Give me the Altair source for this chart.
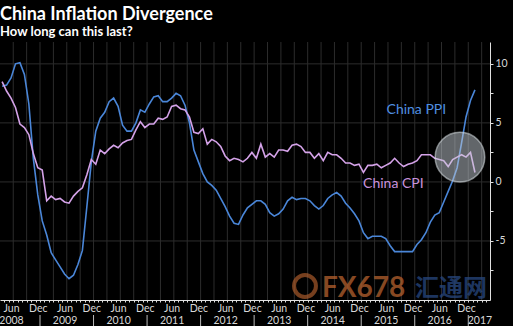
import altair as alt
import pandas as pd

# Monthly YoY % from Apr 2008 to Feb 2017
start_year, start_month = 2008, 4
cpi = [8.5, 7.7, 7.1, 6.3, 4.9, 4.6, 4.0, 2.4, 1.2,
       1.0, -1.6, -1.2, -1.5, -1.4, -1.7, -1.8, -1.2, -0.8, -0.5, 0.6, 1.9,
       1.5, 2.7, 2.4, 2.8, 3.1, 2.9, 3.3, 3.5, 3.6, 4.4, 5.1, 4.6,
       4.9, 4.9, 5.4, 5.3, 5.5, 6.4, 6.5, 6.2, 6.1, 5.5, 4.2, 4.1,
       4.5, 3.2, 3.6, 3.4, 3.0, 2.2, 1.8, 2.0, 1.9, 1.7, 2.0, 2.5,
       2.0, 3.2, 2.1, 2.4, 2.1, 2.7, 2.7, 2.6, 3.1, 3.2, 3.0, 2.5,
       2.5, 2.0, 2.4, 1.8, 2.5, 2.3, 2.3, 2.0, 1.6, 1.6, 1.4, 1.5,
       0.8, 1.4, 1.4, 1.5, 1.2, 1.4, 1.6, 2.0, 1.6, 1.3, 1.5, 1.6,
       1.8, 2.3, 2.3, 2.3, 2.0, 1.9, 1.8, 1.3, 1.9, 2.1, 2.3, 2.1,
       2.5, 0.8]
ppi = [8.1, 8.2, 8.8, 10.0, 10.1, 9.1, 6.6, 2.0, -1.1,
       -3.3, -4.5, -6.0, -6.6, -7.2, -7.8, -8.2, -7.9, -7.0, -5.8, -2.1, 1.7,
       4.3, 5.4, 5.9, 6.8, 7.1, 6.4, 4.8, 4.3, 4.3, 5.0, 6.1, 5.9,
       6.6, 7.2, 7.3, 6.8, 6.8, 7.1, 7.5, 7.3, 6.5, 5.0, 2.7, 1.7,
       0.7, 0.0, -0.3, -0.7, -1.4, -2.1, -2.9, -3.5, -3.6, -2.8, -2.2, -1.9,
       -1.6, -1.6, -1.9, -2.6, -2.9, -2.7, -2.3, -1.6, -1.3, -1.5, -1.4, -1.4,
       -1.6, -2.0, -2.3, -2.0, -1.4, -1.1, -0.9, -1.2, -1.8, -2.2, -2.7, -3.3,
       -4.3, -4.8, -4.6, -4.6, -4.6, -4.8, -5.4, -5.9, -5.9, -5.9, -5.9, -5.9,
       -5.3, -4.9, -4.3, -3.4, -2.8, -2.6, -1.7, -0.8, 0.1, 1.2, 3.3, 5.5,
       6.9, 7.8]

series_names = ["China PPI", "China CPI"]
series_colors = ["#4a86d8", "#d4a2e8"]
label_colors = ["#4f8fe0", "#c992dc"]
label_t = [2016.03, 2015.60]
label_v = [6.1, -0.2]

highlight_t = [2016.845]
highlight_v = [2.1]

y_grid = [-5, 0, 5, 10]
y_ticks = [-7.5, -5, -2.5, 0, 2.5, 5, 7.5, 10]
label_years = list(range(2008, 2017))
x_domain = [2008.2525, 2017.406]
y_domain = [-10.0, 11.85]

W, H = 490, 258


def month_mid(i):
    m = start_month - 1 + i
    return start_year + (m // 12) + ((m % 12) + 0.5) / 12


rows = []
for name, vals in zip(series_names, [ppi, cpi]):
    for i, v in enumerate(vals):
        rows.append({"t": month_mid(i), "v": v, "series": name})
df = pd.DataFrame(rows)

month_starts = [y + m / 12 for y in range(2008, 2018) for m in range(12)]
month_starts = [t for t in month_starts if x_domain[0] < t < x_domain[1]]
quarters = [t for t in month_starts if round((t % 1) * 12) % 3 == 0]
label_pos = [y + 5.5 / 12 for y in label_years] + [y + 11.5 / 12 for y in label_years] + [2017 + 2.5 / 12]
axis_values = sorted(month_starts + label_pos)
year_starts = [t for t in month_starts if abs(t - round(t)) < 1e-6]

FONT = "Lato, sans-serif"

x_scale = alt.Scale(domain=x_domain, nice=False, zero=False)
y_scale = alt.Scale(domain=y_domain, nice=False, zero=False)

label_expr = (
    "abs(datum.value*12 - round(datum.value*12)) < 0.01 ? '' : "
    "(round((datum.value - floor(datum.value))*24) == 11 ? ['Jun', toString(floor(datum.value))] : "
    "(round((datum.value - floor(datum.value))*24) == 23 ? 'Dec' : ['', toString(floor(datum.value))]))"
)

x_axis = alt.Axis(
    orient="bottom", values=axis_values, labelExpr=label_expr, title=None, grid=False,
    domainColor="#e0e0e0", domainWidth=1, tickColor="#e0e0e0", tickSize=2,
    tickOpacity={"condition": {"test": "abs(datum.value*12 - round(datum.value*12)) < 0.01", "value": 1}, "value": 0},
    labelColor="#d8d8d8", labelFont=FONT, labelFontSize=10.5, labelLineHeight=12,
    labelPadding=1, labelOverlap=False, labelFlush=False, labelBound=False,
)
y_axis = alt.Axis(
    orient="right", values=y_ticks, title=None, grid=False,
    labelExpr="datum.value % 5 == 0 ? toString(datum.value) : ''",
    domainColor="#e0e0e0", tickColor="#e0e0e0", tickSize=3,
    labelColor="#d8d8d8", labelFont=FONT, labelFontSize=10.5, labelPadding=2,
    labelOverlap=False, labelFlush=False,
)

X = alt.X("t:Q", scale=x_scale, axis=x_axis)
Y = alt.Y("v:Q", scale=y_scale, axis=y_axis)

grid_color = "#2c2c2c"
vgrid = alt.Chart(pd.DataFrame({"t": quarters})).mark_rule(color=grid_color, strokeWidth=1).encode(x=X)
hgrid = alt.Chart(pd.DataFrame({"v": y_grid})).mark_rule(color=grid_color, strokeWidth=1).encode(y=Y)

lines = alt.Chart(df).mark_line(strokeWidth=1.6, clip=True).encode(
    x=X, y=Y,
    color=alt.Color("series:N", scale=alt.Scale(domain=series_names, range=series_colors), legend=None),
    order=alt.Order("t:Q"),
)

circle = alt.Chart(pd.DataFrame({"t": highlight_t, "v": highlight_v})).mark_circle(
    size=2460, fill="#c3ccd4", fillOpacity=0.5, stroke="#dfe5ea", strokeWidth=1.5, strokeOpacity=0.55
).encode(x=X, y=Y)

labels = alt.Chart(pd.DataFrame({"t": label_t, "v": label_v, "label": series_names, "c": label_colors})).mark_text(
    font=FONT, fontSize=14, align="center", baseline="middle"
).encode(x=X, y=Y, text="label:N", color=alt.Color("c:N", scale=None))

seps = alt.Chart(pd.DataFrame({"t": year_starts})).mark_rule(color="#bbbbbb", strokeWidth=1, clip=False).encode(
    x=X, y=alt.value(H + 15), y2=alt.value(H + 26)
)

wm1 = alt.Chart(pd.DataFrame({"w": ["FX678"]})).mark_text(
    font="Lato", fontSize=28, fontWeight="bold", color="#b5612e", opacity=0.75, align="left", baseline="alphabetic"
).encode(x=alt.value(322), y=alt.value(H - 3), text="w:N")
wm2 = alt.Chart(pd.DataFrame({"w": ["汇通网"]})).mark_text(
    font="Noto Sans CJK SC", fontSize=24, fontWeight="bold", color="#27477f", opacity=0.75, align="left", baseline="alphabetic"
).encode(x=alt.value(415), y=alt.value(H - 4), text="w:N")
logo = alt.Chart(pd.DataFrame({"w": [1]})).mark_point(
    shape="circle", size=480, stroke="#b5612e", strokeWidth=4, opacity=0.65, filled=False
).encode(x=alt.value(305), y=alt.value(H - 14))

chart = alt.layer(vgrid, hgrid, lines, circle, labels, seps, wm1, wm2, logo).properties(
    width=W, height=H,
    autosize=alt.AutoSizeParams(type="none"),
    padding={"left": 0, "top": 42, "right": 23, "bottom": 26},
    background="black",
    title=alt.TitleParams(
        text="China Inflation Divergence", subtitle="How long can this last?",
        anchor="start", frame="group", color="white", subtitleColor="white",
        font="Lato", fontSize=18, fontWeight="bold",
        subtitleFont="Lato", subtitleFontSize=13, subtitleFontWeight="bold",
        offset=3, subtitlePadding=2,
    ),
).configure_view(stroke=None)

chart.save("out.html", embed_options={"renderer": "svg", "actions": False})
